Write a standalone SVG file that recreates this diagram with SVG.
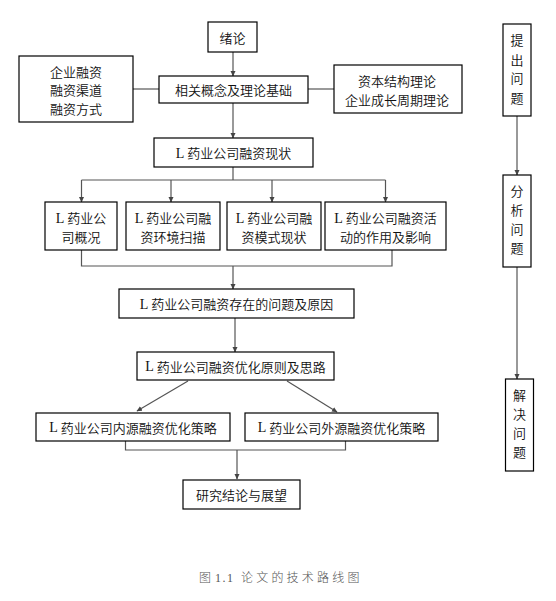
<svg xmlns="http://www.w3.org/2000/svg" width="556" height="601" viewBox="0 0 556 601">
<defs>
<marker id="ah" markerWidth="6" markerHeight="6" refX="5" refY="3" orient="auto" markerUnits="userSpaceOnUse">
<path d="M0,0.5 L5.5,3 L0,5.5 Z" fill="#444"/>
</marker>
<style>
.box{fill:#fff;stroke:#000;stroke-width:1.2}
.t{font-family:"Noto Sans CJK SC","Noto Sans",sans-serif;font-size:13px;font-weight:350;fill:#111;text-anchor:middle;dominant-baseline:central}
.L{font-family:"Liberation Serif",serif;font-size:14px}
.c{fill:none;stroke:#555;stroke-width:1.2}
.a{marker-end:url(#ah)}
.cap{font-family:"Liberation Serif","Noto Sans CJK SC",serif;font-size:12px;font-weight:300;fill:#555}
</style>
</defs>
<rect width="556" height="601" fill="#fff"/>
<g id="connectors">
<line class="c a" x1="233" y1="52" x2="233" y2="76"/>
<line class="c" x1="133" y1="89" x2="159" y2="89"/>
<line class="c" x1="308" y1="89" x2="334" y2="89"/>
<line class="c a" x1="233" y1="103" x2="233" y2="138"/>
<polyline class="c" points="233,167 233,180"/>
<line class="c" x1="81.5" y1="180" x2="385.5" y2="180"/>
<line class="c a" x1="81.5" y1="180" x2="81.5" y2="202"/>
<line class="c a" x1="171" y1="180" x2="171" y2="202"/>
<line class="c a" x1="272" y1="180" x2="272" y2="202"/>
<line class="c a" x1="385.5" y1="180" x2="385.5" y2="202"/>
<polyline class="c" points="81.5,250 81.5,266 392,266 392,250"/>
<line class="c a" x1="233" y1="266" x2="233" y2="289"/>
<line class="c a" x1="235" y1="318" x2="235" y2="352"/>
<line class="c a" x1="188" y1="381" x2="137" y2="411"/>
<line class="c a" x1="287" y1="381" x2="337" y2="412"/>
<polyline class="c" points="125.5,441 125.5,450 345.5,450 345.5,441"/>
<line class="c a" x1="237" y1="450" x2="237" y2="479"/>
<line class="c a" x1="517" y1="116" x2="517" y2="175"/>
<line class="c a" x1="517" y1="267" x2="517" y2="379"/>
</g>
<g id="n-xulun"><rect class="box" x="208" y="22" width="49" height="30"/><text class="t" x="232.5" y="37">绪论</text></g>
<g id="n-jichu"><rect class="box" x="159" y="76" width="149" height="27"/><text class="t" x="233.5" y="89.5">相关概念及理论基础</text></g>
<g id="n-left"><rect class="box" x="19" y="56" width="114" height="66"/>
<text class="t" x="76" y="71">企业融资</text><text class="t" x="76" y="89.5">融资渠道</text><text class="t" x="76" y="108">融资方式</text></g>
<g id="n-right"><rect class="box" x="334" y="65" width="128" height="48"/>
<text class="t" x="397" y="80">资本结构理论</text><text class="t" x="397" y="99">企业成长周期理论</text></g>
<g id="n-xianzhuang"><rect class="box" x="154" y="138" width="159" height="29"/><text class="t" x="233.5" y="152.5"><tspan class="L">L</tspan> 药业公司融资现状</text></g>
<g id="n-gaikuang"><rect class="box" x="45" y="202" width="72" height="48"/>
<text class="t" x="81" y="217.5"><tspan class="L">L</tspan> 药业公</text><text class="t" x="81" y="236.5">司概况</text></g>
<g id="n-huanjing"><rect class="box" x="126" y="202" width="94" height="48"/>
<text class="t" x="173" y="217.5"><tspan class="L">L</tspan> 药业公司融</text><text class="t" x="173" y="236.5">资环境扫描</text></g>
<g id="n-moshi"><rect class="box" x="227" y="202" width="94" height="48"/>
<text class="t" x="274" y="217.5"><tspan class="L">L</tspan> 药业公司融</text><text class="t" x="274" y="236.5">资模式现状</text></g>
<g id="n-zuoyong"><rect class="box" x="325" y="202" width="121" height="48"/>
<text class="t" x="385.5" y="217.5"><tspan class="L">L</tspan> 药业公司融资活</text><text class="t" x="385.5" y="236.5">动的作用及影响</text></g>
<g id="n-wenti"><rect class="box" x="119" y="289" width="235" height="29"/><text class="t" x="236.5" y="303.5"><tspan class="L">L</tspan> 药业公司融资存在的问题及原因</text></g>
<g id="n-silu"><rect class="box" x="137" y="352" width="197" height="28"/><text class="t" x="235.5" y="366"><tspan class="L">L</tspan> 药业公司融资优化原则及思路</text></g>
<g id="n-neiyuan"><rect class="box" x="36" y="413" width="194" height="28"/><text class="t" x="133" y="427"><tspan class="L">L</tspan> 药业公司内源融资优化策略</text></g>
<g id="n-waiyuan"><rect class="box" x="245" y="413" width="193" height="28"/><text class="t" x="341.5" y="427"><tspan class="L">L</tspan> 药业公司外源融资优化策略</text></g>
<g id="n-jielun"><rect class="box" x="183" y="480" width="117" height="29"/><text class="t" x="241.5" y="494.5">研究结论与展望</text></g>
<g id="n-tichu"><rect class="box" x="503" y="24" width="28" height="92"/>
<text class="t" x="517" y="39">提</text><text class="t" x="517" y="59">出</text><text class="t" x="517" y="77.5">问</text><text class="t" x="517" y="97">题</text></g>
<g id="n-fenxi"><rect class="box" x="503" y="175" width="28" height="92"/>
<text class="t" x="517" y="190">分</text><text class="t" x="517" y="209">析</text><text class="t" x="517" y="228">问</text><text class="t" x="517" y="247.5">题</text></g>
<g id="n-jiejue"><rect class="box" x="505.5" y="379" width="28" height="92"/>
<text class="t" x="519.5" y="394.5">解</text><text class="t" x="519.5" y="413.5">决</text><text class="t" x="519.5" y="432.5">问</text><text class="t" x="519.5" y="451">题</text></g>
<text class="cap" y="582"><tspan x="199">图</tspan><tspan x="215" letter-spacing="1.5">1.1</tspan><tspan x="241" letter-spacing="3.2">论文的技术路线图</tspan></text>
</svg>
